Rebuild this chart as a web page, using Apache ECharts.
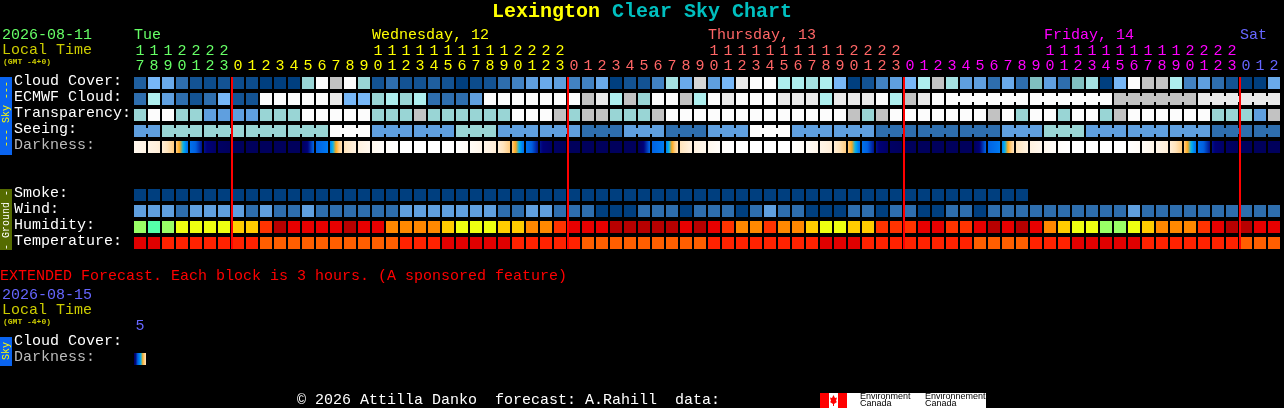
<!DOCTYPE html>
<html><head><meta charset="utf-8">
<style>html,body{margin:0;padding:0;background:#000}#c{width:1284px;height:408px}</style>
<script src="https://cdn.jsdelivr.net/npm/echarts@6/dist/echarts.min.js"></script>
</head><body><div id="c"></div>
<script>
const hours=[17,18,19,20,21,22,23,0,1,2,3,4,5,6,7,8,9,10,11,12,13,14,15,16,17,18,19,20,21,22,23,0,1,2,3,4,5,6,7,8,9,10,11,12,13,14,15,16,17,18,19,20,21,22,23,0,1,2,3,4,5,6,7,8,9,10,11,12,13,14,15,16,17,18,19,20,21,22,23,0,1,2];
const dayNames=['Tue','Wednesday, 12','Thursday, 13','Friday, 14','Sat'];
const dayStartCols=[0,17,41,65,79];
const midnightCols=[7,31,55,79];
const rowNames=['Cloud Cover:','ECMWF Cloud:','Transparency:','Seeing:','Darkness:','','','Smoke:','Wind:','Humidity:','Temperature:'];
const cloud=[15,40,35,20,10,5,10,5,5,0,0,0,60,100,80,100,60,10,20,10,10,15,10,0,5,10,20,25,30,35,30,25,25,35,0,10,10,25,65,35,85,30,40,90,100,100,70,70,65,70,40,0,10,25,30,40,70,80,65,30,30,20,35,20,50,30,20,50,65,0,40,100,80,80,70,25,30,20,10,0,0,35];
const ecmwf=[20,70,30,20,10,20,40,10,10,100,100,100,100,100,90,40,40,60,70,60,70,20,20,20,30,100,100,100,100,100,100,100,80,90,70,80,60,100,100,80,70,100,90,100,100,100,90,90,90,70,90,90,90,100,70,80,90,100,100,100,100,100,100,100,100,100,100,100,100,100,80,80,80,80,80,80,90,90,90,90,90,90];
const transparency=[60,100,100,60,60,30,30,30,30,60,60,60,100,100,100,100,100,60,60,60,80,60,60,60,60,60,60,100,100,100,80,60,80,80,60,60,60,80,100,100,100,100,100,100,100,100,100,100,100,100,100,80,60,80,100,100,100,100,100,100,100,80,100,60,100,100,60,100,100,60,80,100,100,100,100,100,100,60,60,60,30,80];
const seeing=[30,30,60,60,60,60,60,60,60,60,60,60,60,60,100,100,100,30,30,30,30,30,30,60,60,60,30,30,30,30,30,30,20,20,20,30,30,30,20,20,20,30,30,30,100,100,100,30,30,30,30,30,30,20,20,20,20,20,20,20,20,20,30,30,30,60,60,60,30,30,30,30,30,30,30,30,30,20,20,20,20,20];
const darknessEdges=[1,1.5,2.2,4,7.3,8.8,9.7,10,10,10,10,10,10,7.9,6.9,3,1.8,1,.3,0,0,0,0,0,.5,1.3,2.2,4,7.3,8.8,9.7,10,10,10,10,10,10,7.9,6.9,3,1.8,1,.3,0,0,0,0,0,.5,1.3,2.2,4,7.3,8.8,9.7,10,10,10,10,10,10,7.9,6.9,3,1.8,1,.3,0,0,0,0,0,.5,1.3,2.2,4,7.3,8.8,9.7,10,10,10,10];
const smoke=[0,0,0,0,0,0,0,0,0,0,0,0,0,0,0,0,0,0,0,0,0,0,0,0,0,0,0,0,0,0,0,0,0,0,0,0,0,0,0,0,0,0,0,0,0,0,0,0,0,0,0,0,0,0,0,0,0,0,0,0,0,0,0,0];
const wind=[30,30,30,20,30,30,30,30,20,30,20,20,30,20,20,20,20,20,20,30,30,30,30,30,30,30,20,20,30,30,20,20,20,0,0,0,20,20,20,0,20,20,20,0,20,30,20,20,0,0,0,20,20,0,20,20,0,0,20,20,0,20,20,20,20,20,20,20,20,20,20,30,20,20,20,20,20,20,20,20,20,20];
const humidity=[65,60,65,70,70,70,70,75,75,85,95,90,90,90,90,95,90,90,80,80,80,80,75,70,70,70,75,75,80,80,85,90,90,90,95,95,95,95,95,90,95,90,85,80,80,85,80,80,75,70,70,75,75,85,85,85,90,90,85,85,90,95,90,95,90,80,75,70,70,65,65,70,75,80,80,80,85,90,95,95,90,90];
const temperature=[29,29,26,26,26,26,26,26,26,23,23,23,23,23,23,23,23,23,23,26,26,26,29,29,29,29,29,26,26,26,26,26,23,23,23,23,23,23,23,23,23,26,26,26,26,26,26,26,26,29,29,29,26,26,26,26,26,26,26,26,23,23,23,23,26,26,26,29,29,29,29,29,26,26,26,26,26,26,26,23,23,23];
const extDarknessEdges=[10,3];
const extHours=['5'];
const extRowNames=['Cloud Cover:','Darkness:'];

const skyScale={0:'#003F7F',5:'#0C4C8C',10:'#135393',15:'#1F5F9F',20:'#2E6EAE',25:'#4282C2',30:'#5F9FDF',35:'#6AAAEA',40:'#77B7F7',50:'#80BFBF',60:'#99D5D5',65:'#A4E2E2',70:'#AEEEEE',80:'#C2C2C2',85:'#D6D6D6',90:'#EAEAEA',100:'#FCFCFC'};
const humidityScale={60:'#55FFAA',65:'#99FF66',70:'#EEFF11',75:'#FFCC00',80:'#FF8800',85:'#FF3300',90:'#E80000',95:'#B80000'};
const temperatureScale={23:'#FF5E00',26:'#FF2200',29:'#E00000'};
const darkScale=['#FFFFFF','#FFF8EE','#FFF0DC','#FFE4BC','#FFCC80','#FFA818','#00B4F0','#0078F0','#0060E0','#000078','#00005C'];
const dayColors=['#66FF66','#FFFF00','#FF6666','#FF00FF','#6666FF'];
const MONO='"Liberation Mono"';

function hexRgb(h){return [1,3,5].map(i=>parseInt(h.substr(i,2),16));}
function darkColor(v){const a=Math.min(Math.floor(v),9),t=v-a,p=hexRgb(darkScale[a]),q=hexRgb(darkScale[a+1]);
  return 'rgb('+p.map((x,i)=>Math.round(x+(q[i]-x)*t)).join(',')+')';}
function dayOf(col){return midnightCols.filter(m=>col>=m).length;}

function cellSeries(values,row,scale,linkFn){
  return {type:'custom',silent:true,xAxisIndex:0,yAxisIndex:0,encode:{x:0,y:1},
    data:values.map((v,i)=>[i,row,v]),
    renderItem(p,api){
      const c=api.coord([api.value(0),api.value(1)]),s=api.size([1,1]),col=api.value(0),v=api.value(2);
      const w=s[0]-2,h=s[1]-4,fill=scale[v],kids=[{type:'rect',shape:{x:c[0]-w/2,y:c[1]-h/2,width:w,height:h},style:{fill}}];
      if(linkFn&&col+1<values.length&&values[col+1]===v&&linkFn(col))
        kids.push({type:'rect',shape:{x:c[0]+w/2,y:c[1]-3,width:2,height:6},style:{fill}});
      return {type:'group',children:kids};
    }};
}
function darkSeries(edges,row,xi,yi){
  return {type:'custom',silent:true,xAxisIndex:xi,yAxisIndex:yi,encode:{x:0,y:1},
    data:edges.slice(0,-1).map((v,i)=>[i,row,v,edges[i+1]]),
    renderItem(p,api){
      const c=api.coord([api.value(0),api.value(1)]),s=api.size([1,1]),a=api.value(2),b=api.value(3);
      const w=s[0]-2,h=s[1]-4,stops=[];
      for(let k=0;k<=12;k++)stops.push({offset:k/12,color:darkColor(a+(b-a)*k/12)});
      return {type:'rect',shape:{x:c[0]-w/2,y:c[1]-h/2,width:w,height:h},
        style:{fill:new echarts.graphic.LinearGradient(0,0,1,0,stops)}};
    }};
}
const baseX={type:'category',position:'top',axisLine:{show:false},axisTick:{show:false},splitLine:{show:false}};
const hourColor=(v,i)=>dayColors[dayOf(i)];
const lbl={fontFamily:MONO,fontSize:15,interval:0,color:hourColor,hideOverlap:false};
function txt(x,y,s,fill,size,weight){return {type:'text',x,y,silent:true,style:{text:s,fill,font:(weight||'normal')+' '+(size||15)+'px '+MONO,verticalAlign:'middle'}};}
function vtxt(cx,cy,s,fill){return {type:'text',x:cx,y:cy,rotation:Math.PI/2,silent:true,style:{text:s,fill,font:'normal 10px '+MONO,align:'center',verticalAlign:'middle'}};}
function rect(x,y,w,h,fill){return {type:'rect',silent:true,shape:{x,y,width:w,height:h},style:{fill}};}
function small(x,y,s,size){return {type:'text',x,y,silent:true,style:{text:s,fill:'#000',font:size+'px "Liberation Sans"',verticalAlign:'middle'}};}
const yLabel={interval:0,align:'left',margin:119,verticalAlign:'bottom',lineHeight:3,fontFamily:MONO,fontSize:15,color:v=>v==='Darkness:'?'#BBBBBB':'#FFFFFF'};

const option={
  animation:false,backgroundColor:'#000',
  title:{left:'center',top:2,padding:0,itemGap:0,text:'{a|Lexington }{b|Clear Sky Chart}',
    textStyle:{rich:{a:{color:'#FFFF00',fontFamily:MONO,fontWeight:'bold',fontSize:20},b:{color:'#00BFBF',fontFamily:MONO,fontWeight:'bold',fontSize:20}}}},
  grid:[{left:133,top:75,width:1148,height:176},{left:133,top:335,width:14,height:32}],
  xAxis:[
    {...baseX,gridIndex:0,data:hours.map(h=>String(h%10)),axisLabel:{...lbl,margin:1}},
    {...baseX,gridIndex:0,offset:15,data:hours.map(h=>h>=10?String(Math.floor(h/10)):''),axisLabel:{...lbl,margin:1}},
    {...baseX,gridIndex:1,data:extHours,axisLabel:{...lbl,margin:1,color:'#6666FF'}}
  ],
  yAxis:[
    {type:'category',gridIndex:0,inverse:true,data:rowNames,axisLine:{show:false},axisTick:{show:false},splitLine:{show:false},axisLabel:yLabel},
    {type:'category',gridIndex:1,inverse:true,data:extRowNames,axisLine:{show:false},axisTick:{show:false},splitLine:{show:false},axisLabel:yLabel}
  ],
  series:[
    cellSeries(cloud,0,skyScale),
    cellSeries(ecmwf,1,skyScale,i=>i>=58&&(i+1-58)%6!==0),
    cellSeries(transparency,2,skyScale),
    cellSeries(seeing,3,skyScale,i=>(i+1)%3!==2),
    darkSeries(darknessEdges,4,0,0),
    cellSeries(smoke,7,skyScale),
    cellSeries(wind,8,skyScale),
    cellSeries(humidity,9,humidityScale),
    cellSeries(temperature,10,temperatureScale),
    darkSeries(extDarknessEdges,1,2,1),
    {type:'custom',silent:true,z:10,xAxisIndex:0,yAxisIndex:0,encode:{x:0,y:1},
     data:midnightCols.map(c=>[c,0]),
     renderItem(p,api){const a=api.coord([api.value(0),0]),b=api.coord([api.value(0),10]),s=api.size([1,1]);
       const x=a[0]-s[0]/2;return {type:'rect',shape:{x:x,y:a[1]-s[1]/2+2,width:2,height:b[1]-a[1]+s[1]-4},style:{fill:'#FF0000'}};}},
    {type:'custom',silent:true,xAxisIndex:0,yAxisIndex:0,encode:{x:0,y:1},clip:false,
     data:dayStartCols.map((c,i)=>[c,0,i]),
     renderItem(p,api){const a=api.coord([api.value(0),0]),s=api.size([1,1]),i=api.value(2);
       return {type:'text',x:a[0]-s[0]/2+1,y:a[1]-48,style:{text:dayNames[i],fill:dayColors[i],font:'normal 15px '+MONO,verticalAlign:'middle'}};}}
  ],
  graphic:[
    txt(2,35,'2026-08-11','#66FF66'),
    txt(2,50,'Local Time','#CCCC00'),
    txt(3,62,'(GMT -4+0)','#CCCC00',8,'bold'),
    txt(0,276,'EXTENDED Forecast. Each block is 3 hours. (A sponsored feature)','#FF0000'),
    txt(2,295,'2026-08-15','#6666FF'),
    txt(2,310,'Local Time','#CCCC00'),
    txt(3,322,'(GMT -4+0)','#CCCC00',8,'bold'),
    txt(297,400,'\u00A9 2026 Attilla Danko  forecast: A.Rahill  data:','#FFFFFF'),
    rect(0,77,12,78,'#0A64F0'),vtxt(6,114,'--- Sky ---','#FFFF00'),
    rect(0,189,12,61,'#556B00'),vtxt(6,220,'- Ground -','#FFFFFF'),
    rect(0,337,12,29,'#0A64F0'),vtxt(6,351,'Sky','#FFFF00'),
    rect(820,393,166,15,'#FFFFFF'),rect(820,393,9,15,'#FF0000'),rect(838,393,9,15,'#FF0000'),
    {type:'polygon',silent:true,shape:{points:[[833.5,395],[835,398],[837,397.5],[836,401],[837,402],[834,404],[834,406],[833,406],[833,404],[830,402],[831,401],[830,397.5],[832,398]]},style:{fill:'#FF0000'}},
    small(860,397,'Environment',9),small(860,404,'Canada',9),small(925,397,'Environnement',9),small(925,404,'Canada',9)
  ]
};
echarts.init(document.getElementById('c'),null,{renderer:'canvas'}).setOption(option);
</script></body></html>
